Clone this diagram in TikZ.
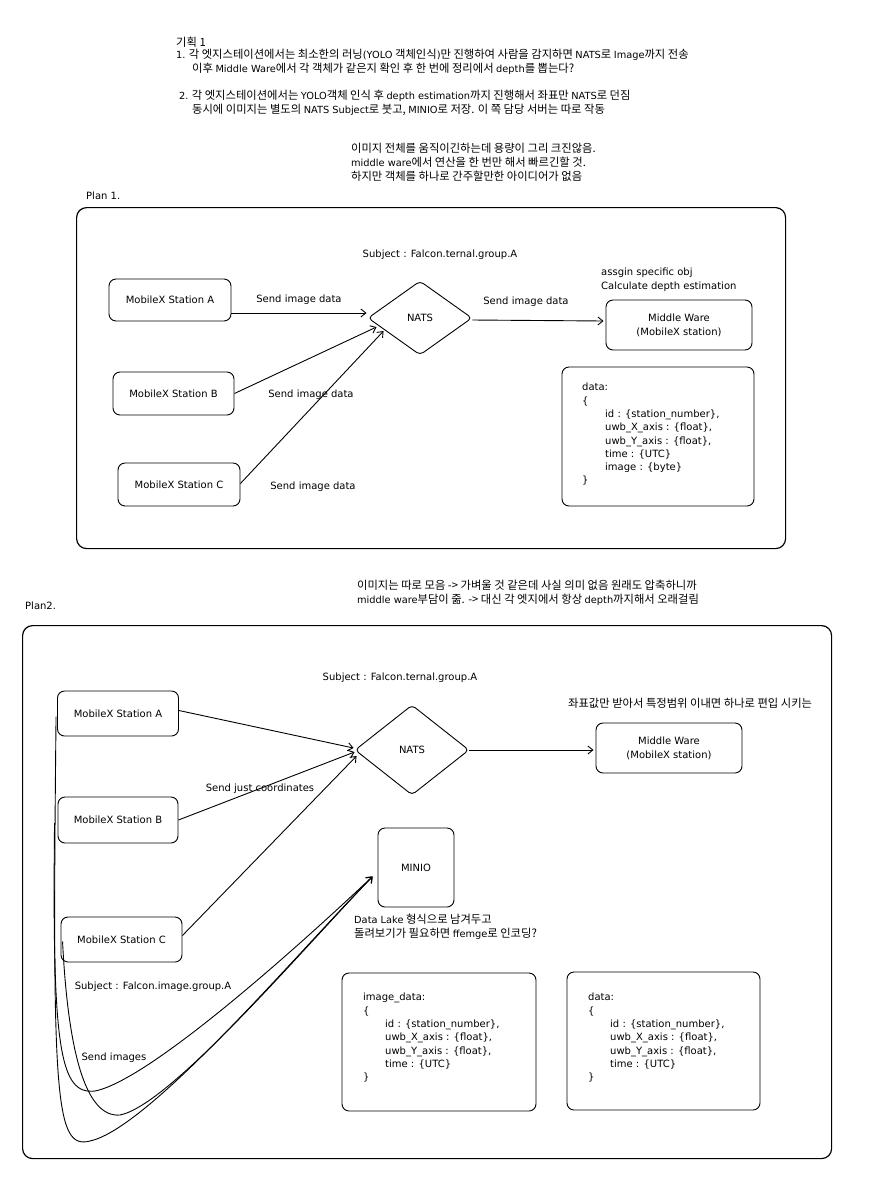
\documentclass[tikz,border=0pt]{standalone}
\usepackage{fontspec}
\setmainfont{Noto Sans CJK KR}
\newfontfamily\latf{DejaVu Sans}
\newcommand\lat[1]{{\latf\fontsize{9.8}{14}\selectfont #1}}
\usetikzlibrary{arrows.meta,shapes.geometric,calc}
\begin{document}
\begin{tikzpicture}[x=1pt,y=-1pt,
  every node/.style={font=\latf\fontsize{10}{14}\selectfont, inner sep=0pt},
  kr/.style={align=left, anchor=west, font=\fontsize{11.3}{14}\selectfont},
  code/.style={align=left, font=\latf\fontsize{10}{13.3}\selectfont, anchor=north west},
  box/.style={draw, rounded corners=7pt, line width=0.9pt, align=center},
  frame/.style={draw, rounded corners=10pt, line width=1.2pt},
  diam/.style={draw, diamond, rounded corners=4pt, line width=0.9pt},
  arr/.style={-{Straight Barb[length=5pt,width=8pt]}, line width=0.9pt}]
\fill[white] (0,0) rectangle (868,1192);
\useasboundingbox (0,0) rectangle (868,1192);

% ---------- top notes ----------
\node[kr] (n0) at (176,42) {기획 1};
\node[kr] (n1) at (176,55) {\lat{1.} 각 엣지스테이션에서는 최소한의 러닝\lat{(YOLO} 객체인식\lat{)}만 진행하여 사람을 감지하면 \lat{NATS}로 \lat{Image}까지 전송};
\node[kr] (n2) at (192,69) {이후 \lat{Middle Ware}에서 각 객체가 같은지 확인 후 한 번에 정리에서 \lat{depth}를 뽑는다?};
\node[kr] (n3) at (179,96) {\lat{2.} 각 엣지스테이션에서는 \lat{YOLO}객체 인식 후 \lat{depth estimation}까지 진행해서 좌표만 \lat{NATS}로 던짐};
\node[kr] (n4) at (192,110) {동시에 이미지는 별도의 \lat{NATS Subject}로 붓고, \lat{MINIO}로 저장. 이 쪽 담당 서버는 따로 작동};

\node[kr] (m1) at (351,162) {이미지 전체를 움직이긴하는데 용량이 그리 크진않음.\\\lat{middle ware}에서 연산을 한 번만 해서 빠르긴할 것.\\하지만 객체를 하나로 간주할만한 아이디어가 없음};

% ---------- Plan 1 ----------
\node[anchor=west] (p1) at (86,196) {Plan 1.};
\node[frame, anchor=north west, minimum width=709pt, minimum height=341pt] (f1) at (76,207) {};

\node (s1) at (440,255) {Subject : Falcon.ternal.group.A};
\node[box, minimum width=122pt, minimum height=42pt] (A1) at (170,300) {MobileX Station A};
\node[box, minimum width=121pt, minimum height=43pt] (B1) at (173.5,393.5) {MobileX Station B};
\node[box, minimum width=122pt, minimum height=43pt] (C1) at (179,484.5) {MobileX Station C};
\node[diam, minimum width=104pt, minimum height=74pt] (N1) at (420,318) {NATS};
\node[box, minimum width=146pt, minimum height=50pt] (MW1) at (679,325) {Middle Ware\\(MobileX station)};
\node[align=left, anchor=west] (as1) at (601,280) {assgin specific obj\\Calculate depth estimation};
\node[box, minimum width=192pt, minimum height=139pt] (D1) at (658,436.5) {};
\node[code] (D1t) at (582,383) {data:\\\{\\\hspace*{23pt}id : \{station\_number\},\\\hspace*{23pt}uwb\_X\_axis : \{float\},\\\hspace*{23pt}uwb\_Y\_axis : \{float\},\\\hspace*{23pt}time : \{UTC\}\\\hspace*{23pt}image : \{byte\}\\\}};

\draw[arr] ($(A1.east)+(0,13)$) -- ($(N1.west)+(-1,-5)$);
\draw[arr] (B1.east) -- ($(N1.west)+(9,9)$);
\draw[arr] ($(C1.east)+(0,-1)$) -- ($(N1.west)+(16,13)$);
\draw[arr] ($(N1.east)+(0,2)$) -- ($(MW1.west)+(-2,-4)$);

\node (l1) at (299,300) {Send image data};
\node (l2) at (311,395) {Send image data};
\node (l3) at (313,487) {Send image data};
\node (l4) at (526,302) {Send image data};

% ---------- Plan 2 ----------
\node[kr] (m2) at (357,593) {이미지는 따로 모음 -> 가벼울 것 같은데 사실 의미 없음 원래도 압축하니까\\\lat{middle ware}부담이 줆. -> 대신 각 엣지에서 항상 \lat{depth}까지해서 오래걸림};
\node[anchor=west] (p2) at (25,606) {Plan2.};
\node[frame, anchor=north west, minimum width=809pt, minimum height=533pt] (f2) at (22,625) {};

\node (s2) at (400,678) {Subject : Falcon.ternal.group.A};
\node[box, minimum width=121pt, minimum height=45pt] (A2) at (118,713.5) {MobileX Station A};
\node[box, minimum width=120pt, minimum height=46pt] (B2) at (118,820) {MobileX Station B};
\node[box, minimum width=121pt, minimum height=45pt] (C2) at (121.5,939.5) {MobileX Station C};
\node[diam, minimum width=114pt, minimum height=90pt] (N2) at (412,750) {NATS};
\node[box, minimum width=146pt, minimum height=50pt] (MW2) at (669,748) {Middle Ware\\(MobileX station)};
\node[kr] (k2) at (568,703) {좌표값만 받아서 특정범위 이내면 하나로 편입 시키는};
\node[box, minimum width=76pt, minimum height=79pt] (MI) at (416,867.5) {MINIO};
\node[kr] (dl) at (354,927) {\lat{Data Lake} 형식으로 남겨두고\\돌려보기가 필요하면 \lat{ffemge}로 인코딩?};

\node[box, minimum width=194pt, minimum height=138pt] (ID) at (439,1042) {};
\node[code] (IDt) at (363,993) {image\_data:\\\{\\\hspace*{22pt}id : \{station\_number\},\\\hspace*{22pt}uwb\_X\_axis : \{float\},\\\hspace*{22pt}uwb\_Y\_axis : \{float\},\\\hspace*{22pt}time : \{UTC\}\\\}};
\node[box, minimum width=193pt, minimum height=138pt] (D2) at (663.5,1041) {};
\node[code] (D2t) at (588,993) {data:\\\{\\\hspace*{22pt}id : \{station\_number\},\\\hspace*{22pt}uwb\_X\_axis : \{float\},\\\hspace*{22pt}uwb\_Y\_axis : \{float\},\\\hspace*{22pt}time : \{UTC\}\\\}};

\draw[arr] ($(A2.east)+(0,-3)$) -- ($(N2.west)+(-1,-2)$);
\draw[arr] (B2.east) -- ($(N2.west)+(0,2)$);
\draw[arr] ($(C2.east)+(0,-4)$) -- ($(N2.west)+(2,6)$);
\draw[arr] (N2.east) -- ($(MW2.west)+(-2,2)$);

\draw[arr] ($(A2.west)+(-1,3)$) .. controls (52,1100) and (55,1150) .. (90,1141)
   .. controls (150,1128) and (300,950) .. ($(MI.west)+(-5,9)$);
\draw[arr] ($(B2.west)+(-3,3)$) .. controls (52,1050) and (60,1095) .. (95,1091)
   .. controls (150,1080) and (300,945) .. ($(MI.west)+(-5,9)$);
\draw[arr] ($(C2.west)+(2,2)$) .. controls (68,1050) and (85,1118) .. (120,1115)
   .. controls (170,1105) and (300,952) .. ($(MI.west)+(-5,9)$);

\node (l5) at (260,789) {Send just coordinates};
\node (l6) at (153,987) {Subject : Falcon.image.group.A};
\node (l7) at (114,1058) {Send images};
\end{tikzpicture}
\end{document}
